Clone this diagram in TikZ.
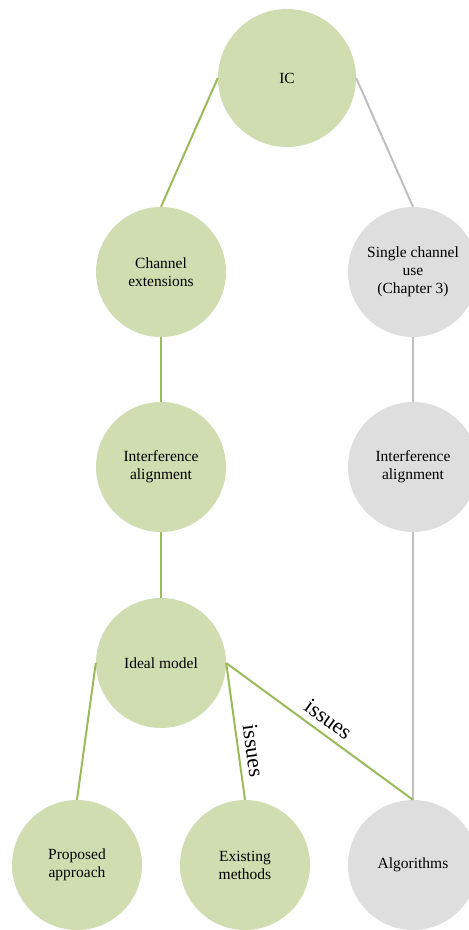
\documentclass[tikz,border=0pt]{standalone}
\usepackage{fontspec}
\setmainfont{Liberation Serif}
\begin{document}
\begin{tikzpicture}[x=1pt,y=-1pt,
  greennode/.style={circle,fill=nodegreen,minimum size=130pt,inner sep=0pt,align=center,font=\fontsize{15.5}{18}\selectfont},
  graynode/.style={circle,fill=nodegray,minimum size=130pt,inner sep=0pt,align=center,font=\fontsize{15.5}{18}\selectfont},
  greenlink/.style={draw=linkgreen,line width=2pt},
  graylink/.style={draw=linkgray,line width=2pt},
  issuelabel/.style={font=\fontsize{22}{24}\selectfont,sloped,above=6.5pt,inner sep=0pt}]
\definecolor{nodegreen}{HTML}{CFDDB0}
\definecolor{nodegray}{HTML}{DEDEDE}
\definecolor{linkgreen}{HTML}{9BBB59}
\definecolor{linkgray}{HTML}{BFBFBF}
\useasboundingbox (0,0) rectangle (469,930);

% nodes
\node[greennode,minimum size=138pt] (ic) at (287,78) {IC};
\node[greennode] (ext) at (161,272) {Channel\\extensions};
\node[graynode] (single) at (413,272) {Single channel\\use\\(Chapter 3)};
\node[greennode] (iaL) at (161,467) {Interference\\alignment};
\node[graynode] (iaR) at (413,467) {Interference\\alignment};
\node[greennode] (ideal) at (161,663) {Ideal model};
\node[greennode] (prop) at (77,865) {Proposed\\approach};
\node[greennode] (exist) at (245,865) {Existing\\methods};
\node[graynode] (algo) at (413,865) {Algorithms};

% connectors
\draw[greenlink] (ic.west) -- (ext.north);
\draw[graylink] (ic.east) -- (single.north);
\draw[greenlink] (ext.south) -- (iaL.north);
\draw[greenlink] (iaL.south) -- (ideal.north);
\draw[graylink] (single.south) -- (iaR.north);
\draw[graylink] (iaR.south) -- (algo.north);
\draw[greenlink] (ideal.west) -- (prop.north);
\draw[greenlink] (ideal.east) -- node[issuelabel,pos=0.655] {issues} (exist.north);
\draw[greenlink] (ideal.east) -- node[issuelabel,pos=0.5] {issues} (algo.north);
\end{tikzpicture}
\end{document}
